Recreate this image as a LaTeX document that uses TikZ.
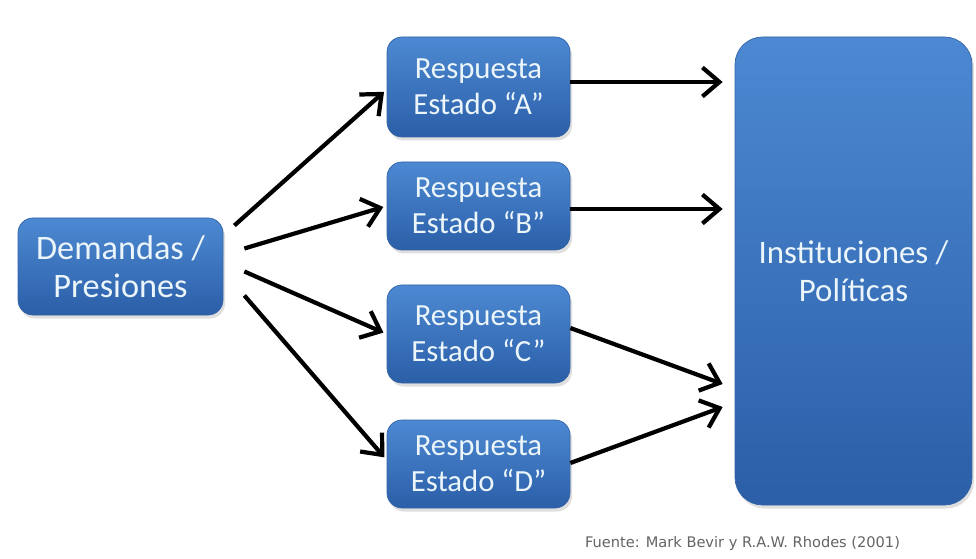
\documentclass[tikz,border=0pt]{standalone}
\usepackage{fontspec}
\setmainfont{Carlito}
\newfontfamily\fuentefont{DejaVu Sans}
\usetikzlibrary{arrows.meta,shadows}
\definecolor{boxtop}{RGB}{76,137,210}
\definecolor{boxbot}{RGB}{43,95,168}
\definecolor{boxline}{RGB}{52,100,165}
\definecolor{boxtext}{RGB}{236,246,250}
\definecolor{notegray}{RGB}{100,100,100}
\begin{document}
\begin{tikzpicture}[
	caja/.style={rounded corners=0.3cm, top color=boxtop, bottom color=boxbot, draw=boxline, line width=0.4pt,
		text=boxtext, align=center, inner sep=0pt,
		drop shadow={opacity=0.25, shadow xshift=0.04cm, shadow yshift=-0.07cm}},
	resp/.style={caja, minimum width=3.66cm, font=\fontsize{17.5}{20.5}\selectfont},
	arr/.style={line width=2.4pt, -{Straight Barb[length=3.4mm,width=5.8mm]}}
	]
	\useasboundingbox[fill=white] (0,0) rectangle (19.52,-11.18);
	
	%boxes
	\node[caja, minimum width=4.1cm, minimum height=1.94cm, font=\fontsize{19.5}{21.5}\selectfont] (dem) at (2.41,-5.33) {Demandas /\\Presiones};
	\node[resp, minimum height=2.0cm] (ra) at (9.57,-1.74) {Respuesta\\Estado “A”};
	\node[resp, minimum height=1.76cm] (rb) at (9.57,-4.12) {Respuesta\\Estado “B”};
	\node[resp, minimum height=1.96cm] (rc) at (9.57,-6.68) {Respuesta\\Estado “C”};
	\node[resp, minimum height=1.76cm] (rd) at (9.57,-9.28) {Respuesta\\Estado “D”};
	\node[caja, rounded corners=0.55cm, minimum width=4.74cm, minimum height=9.36cm, font=\fontsize{18.7}{21.5}\selectfont] (inst) at (17.07,-5.42) {Instituciones /\\Políticas};
	
	%arrows out of the demands
	\draw[arr, shorten >=2pt] ([shift={(0.22,0.82)}]dem.east) -- ([yshift=-0.05cm]ra.west);
	\draw[arr, shorten >=2pt] ([shift={(0.42,0.36)}]dem.east) -- (rb.west);
	\draw[arr, shorten >=2pt] ([shift={(0.42,-0.10)}]dem.east) -- (rc.west);
	\draw[arr, shorten >=2pt] ([shift={(0.42,-0.58)}]dem.east) -- ([yshift=0.08cm]rd.west);
	
	%arrows into the institutions
	\draw[arr, shorten >=0.24cm] ([yshift=0.1cm]ra.east) -- ([yshift=0.1cm]ra.east -| inst.west);
	\draw[arr, shorten >=0.24cm] ([yshift=-0.06cm]rb.east) -- ([yshift=-0.06cm]rb.east -| inst.west);
	\draw[arr] ([yshift=0.12cm]rc.east) -- ([shift={(-0.24,-2.26)}]inst.west);
	\draw[arr] ([yshift=0.02cm]rd.east) -- ([shift={(-0.24,-2.72)}]inst.west);
	
	\node[text=notegray, font=\fuentefont\fontsize{8.3}{10}\selectfont] (fuente) at (14.85,-10.86) {Fuente: Mark Bevir y R.A.W. Rhodes (2001)};
\end{tikzpicture}
\end{document}
